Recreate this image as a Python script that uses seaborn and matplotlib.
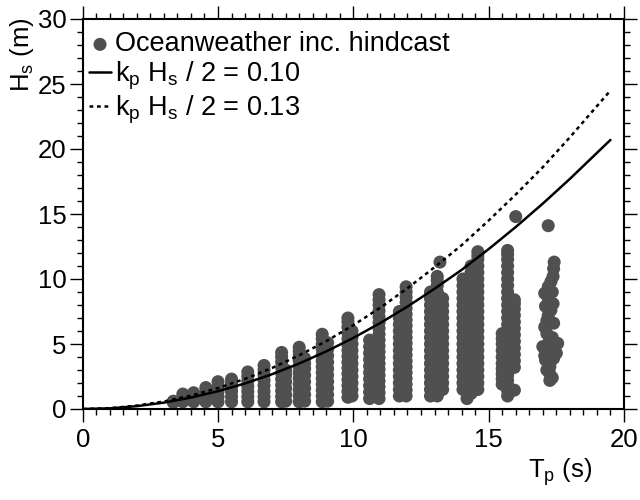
import numpy as np
import pandas as pd
import matplotlib
matplotlib.use("Agg")
import matplotlib.pyplot as plt
import seaborn as sns
from matplotlib.ticker import MultipleLocator

# Oceanweather hindcast: each column of dots sits at one peak period Tp (s)
col_tp = [3.35, 3.7, 4.1, 4.55, 5.0, 5.5, 6.1, 6.7, 7.35, 7.5, 8.0, 8.2, 8.85, 9.05,
          9.8, 9.95, 10.95, 10.6, 11.95, 11.7, 12.85, 13.1, 13.3, 14.05, 14.35, 14.6,
          15.7, 15.95, 15.5]
col_hs = [
    [0.5, 0.6],
    [0.55, 0.85, 1.15],
    [0.55, 0.9, 1.25],
    [0.55, 0.9, 1.3, 1.65],
    [0.55, 0.95, 1.35, 1.75, 2.1],
    [0.55, 0.95, 1.35, 1.7, 2.0, 2.3],
    [0.55, 0.95, 1.35, 1.75, 2.15, 2.5, 2.85],
    [0.55, 0.95, 1.35, 1.8, 2.2, 2.6, 3.0, 3.35],
    [0.55, 0.95, 1.4, 1.85, 2.3, 2.75, 3.2, 3.6, 4.0, 4.35],
    [0.6, 1.1, 1.6, 2.1, 2.6, 3.0],
    [0.55, 1.0, 1.45, 1.9, 2.35, 2.8, 3.25, 3.7, 4.1, 4.45, 4.75],
    [0.6, 1.1, 1.6, 2.1, 2.6, 3.1, 3.5, 3.9],
    [0.55, 1.0, 1.45, 1.9, 2.35, 2.8, 3.25, 3.7, 4.15, 4.6, 5.0, 5.4, 5.75],
    [0.6, 1.1, 1.6, 2.1, 2.6, 3.1, 3.6, 4.1, 4.6, 5.1],
    [0.9, 1.35, 1.8, 2.25, 2.7, 3.15, 3.6, 4.05, 4.5, 4.95, 5.4, 5.85, 6.3, 6.7, 7.0],
    [1.0, 1.5, 2.0, 2.5, 3.0, 3.5, 4.0, 4.5, 5.0, 5.5, 6.0],
    [0.8, 1.25, 1.7, 2.15, 2.6, 3.05, 3.5, 3.95, 4.4, 4.85, 5.3, 5.75, 6.2, 6.65,
     7.1, 7.55, 8.0, 8.4, 8.8],
    [0.8, 1.3, 1.8, 2.3, 2.8, 3.3, 3.8, 4.3, 4.8, 5.3],
    [1.0, 1.45, 1.9, 2.35, 2.8, 3.25, 3.7, 4.15, 4.6, 5.05, 5.5, 5.95, 6.4, 6.85,
     7.3, 7.75, 8.2, 8.6, 9.0, 9.4],
    [1.0, 1.5, 2.0, 2.5, 3.0, 3.5, 4.0, 4.5, 5.0, 5.5, 6.0, 6.5, 7.0, 7.5],
    [1.0, 1.5, 2.0, 2.5, 3.0, 3.5, 4.0, 4.5, 5.0, 5.5, 6.0, 6.5, 7.0, 7.5, 8.0, 8.5, 9.0],
    [1.0, 1.5, 2.0, 2.5, 3.0, 3.5, 4.0, 4.5, 5.0, 5.5, 6.0, 6.5, 7.0, 7.5, 8.0, 8.5,
     9.0, 9.5, 9.9, 10.2],
    [1.5, 2.0, 2.5, 3.0, 3.5, 4.0, 4.5, 5.0, 5.5, 6.0, 6.5, 7.0, 7.5, 8.0, 8.5],
    [1.5, 2.0, 2.5, 3.0, 3.5, 4.0, 4.5, 5.0, 5.5, 6.0, 6.5, 7.0, 7.5, 8.0, 8.5, 9.0,
     9.5, 10.0],
    [1.2, 1.6, 2.0, 2.5, 3.0, 3.5, 4.0, 4.5, 5.0, 5.5, 6.0, 6.5, 7.0, 7.5, 8.0, 8.5,
     9.0, 9.5, 10.0, 10.5, 11.0],
    [1.5, 2.0, 2.5, 3.0, 3.5, 4.0, 4.5, 5.0, 5.5, 6.0, 6.5, 7.0, 7.5, 8.0, 8.5, 9.0,
     9.5, 10.0, 10.5, 11.0, 11.5, 11.8, 12.1],
    [1.0, 1.4, 1.8, 2.2, 2.6, 3.0, 3.5, 4.0, 4.5, 5.0, 5.5, 6.0, 6.5, 7.0, 7.5, 8.0,
     8.5, 9.0, 9.5, 10.0, 10.5, 11.0, 11.5, 11.9, 12.2],
    [1.45, 3.2, 3.7, 4.2, 4.7, 5.2, 5.7, 6.2, 6.7, 7.2, 7.7, 8.1, 8.4],
    [1.9, 2.3, 2.7, 3.1, 3.5, 4.0, 4.5, 5.0, 5.4, 5.8],
]

# wandering band near Tp = 17.3 s
band17_tp = [17.42, 17.4, 17.38, 17.3, 17.2, 17.07, 17.2, 17.38, 17.3, 17.2, 17.15,
             17.07, 17.15, 17.25, 17.55, 17.0, 17.3, 17.5, 17.07, 17.1, 17.26, 17.26,
             17.26, 17.26, 17.35, 17.1, 17.4, 17.35, 17.2, 17.4, 17.15, 17.35]
band17_hs = [11.3, 10.8, 10.2, 9.8, 9.4, 8.9, 8.5, 8.1, 7.6, 7.2, 6.8,
             6.3, 5.8, 5.3, 5.05, 4.8, 4.6, 4.3, 4.1, 3.77, 3.5, 3.25,
             2.7, 2.2, 9.0, 7.9, 6.6, 5.5, 4.4, 3.9, 3.0, 2.4]

# isolated storm peaks
extreme_tp = [16.0, 17.2, 13.2, 14.2]
extreme_hs = [14.8, 14.1, 11.3, 0.8]

# steepness curves k_p Hs / 2 = const
curve_tp = [0, 1, 2, 3, 4, 5, 6, 7, 8, 9, 10, 11, 12, 13, 14, 15, 16, 17, 18, 19, 19.5]
curve_hs_010 = [0, 0.05, 0.22, 0.49, 0.88, 1.37, 1.97, 2.68, 3.5, 4.43, 5.47, 6.62,
                7.88, 9.25, 10.7, 12.3, 14.0, 15.8, 17.7, 19.7, 20.7]
curve_hs_013 = [0, 0.06, 0.26, 0.58, 1.03, 1.61, 2.32, 3.16, 4.13, 5.22, 6.45, 7.8,
                9.29, 10.9, 12.6, 14.5, 16.5, 18.6, 20.9, 23.3, 24.5]

rows = []
for tp, hs_list in zip(col_tp, col_hs):
    rows += [(tp, h) for h in hs_list]
rows += list(zip(band17_tp, band17_hs))
rows += list(zip(extreme_tp, extreme_hs))
pts = pd.DataFrame(rows, columns=["Tp", "Hs"])

sns.set_theme(style="ticks")
plt.rcParams["font.family"] = ["Liberation Sans", "DejaVu Sans"]
plt.rcParams["mathtext.fontset"] = "custom"
plt.rcParams["mathtext.rm"] = "Liberation Sans"
plt.rcParams["mathtext.it"] = "Liberation Sans"
plt.rcParams["mathtext.default"] = "regular"
plt.rcParams["text.color"] = "black"
plt.rcParams["axes.labelcolor"] = "black"
plt.rcParams["xtick.color"] = "black"
plt.rcParams["ytick.color"] = "black"

FS = 18.5
fig = plt.figure(figsize=(6.4, 5.0), dpi=100)
ax = fig.add_axes([0.1292, 0.182, 0.8458, 0.780])

sns.scatterplot(data=pts, x="Tp", y="Hs", s=88, color="#505050", edgecolor="none",
                linewidth=0, ax=ax, label="Oceanweather inc. hindcast", zorder=2)
sns.lineplot(x=curve_tp, y=curve_hs_010, color="black", lw=1.8, ax=ax,
             label="$k_p$ $H_s$ / 2 = 0.10", zorder=3)
sns.lineplot(x=curve_tp, y=curve_hs_013, color="black", lw=1.8, ax=ax,
             linestyle=(0, (1.5, 1.5)), label="$k_p$ $H_s$ / 2 = 0.13", zorder=3)

ax.set_xlim(0, 20)
ax.set_ylim(0, 30)
ax.xaxis.set_major_locator(MultipleLocator(5))
ax.xaxis.set_minor_locator(MultipleLocator(0.5))
ax.yaxis.set_major_locator(MultipleLocator(5))
ax.yaxis.set_minor_locator(MultipleLocator(1))
ax.tick_params(which="both", direction="out", top=True, right=True, colors="black",
               labelcolor="black", width=1.0, labelsize=FS)
ax.tick_params(which="major", length=9.5)
ax.tick_params(which="minor", length=4.3)
ax.tick_params(axis="x", which="major", pad=4)
ax.tick_params(axis="y", which="major", pad=2)
for s in ax.spines.values():
    s.set_linewidth(1.5)
    s.set_color("black")
ax.set_xlabel("")
ax.set_ylabel("")

ax.text(0.882, -0.162, "$T_p$ (s)", transform=ax.transAxes, ha="center", va="center",
        fontsize=FS, color="black")
ax.text(-0.112, 1.005, "$H_s$ (m)", transform=ax.transAxes, rotation=90,
        ha="center", va="top", fontsize=FS, color="black")

leg = ax.legend(loc="upper left", bbox_to_anchor=(0.012, 0.968), frameon=False,
                fontsize=19.5, handlelength=0.8, handletextpad=0.15, labelspacing=0.08,
                borderaxespad=0, borderpad=0)
for t in leg.get_texts():
    t.set_color("black")

fig.savefig("out.png", dpi=100)
